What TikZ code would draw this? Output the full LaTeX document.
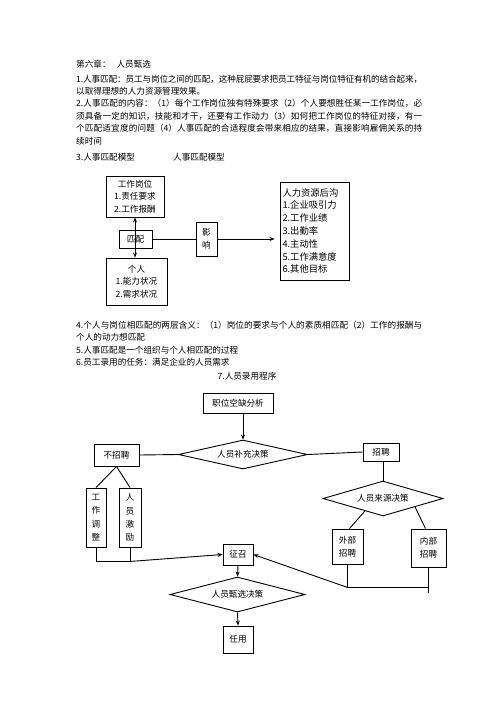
\documentclass[tikz,border=0pt]{standalone}
\usepackage{fontspec}
\setmainfont{Noto Sans CJK SC}
\usetikzlibrary{shapes.geometric,arrows.meta,calc}
\XeTeXlinebreaklocale "zh"
\XeTeXlinebreakskip=0pt plus 2pt minus 0.3pt
\newcommand{\fullline}[1]{\parbox{346pt}{\parfillskip=0pt\parindent=0pt #1}}

\begin{document}
\begin{tikzpicture}[x=1pt,y=-1pt,
	every node/.style={font=\fontsize{8.6}{12.6}\selectfont,inner sep=0pt},
	txt/.style={anchor=west},
	box/.style={draw,line width=0.9pt,align=center},
	dmd/.style={draw,line width=0.9pt,diamond,aspect=4},
	link/.style={line width=0.9pt},
	arr/.style={line width=0.9pt,-{Stealth[length=5pt,width=4pt]}},
	biarr/.style={line width=0.9pt,{Stealth[length=5pt,width=4pt]}-{Stealth[length=5pt,width=4pt]}}]
	\useasboundingbox (0,0) rectangle (496,702);
	% text above the model
	\node[txt] (title) at (76,64) {第六章：\hspace{6pt}人员甄选};
	\node[txt] (p1a) at (76,79) {\fullline{1.人事匹配：员工与岗位之间的匹配，这种屁屁要求把员工特征与岗位特征有机的结合起来，}};
	\node[txt] (p1b) at (76,91.5) {以取得理想的人力资源管理效果。};
	\node[txt] (p2a) at (76,103.5) {\fullline{2.人事匹配的内容：（1）每个工作岗位独有特殊要求（2）个人要想胜任某一工作岗位，必}};
	\node[txt] (p2b) at (76,116) {\fullline{须具备一定的知识，技能和才干，还要有工作动力（3）如何把工作岗位的特征对接，有一}};
	\node[txt] (p2c) at (76,128.5) {\fullline{个匹配适宜度的问题（4）人事匹配的合适程度会带来相应的结果，直接影响雇佣关系的持}};
	\node[txt] (p2d) at (76,141) {续时间};
	\node[txt] (p3) at (76,157) {3.人事匹配模型};
	\node[txt] (p3b) at (173,157) {人事匹配模型};
	% matching model
	\node[box,minimum width=58,minimum height=41] (job) at (135,196.5) {工作岗位\\1.责任要求\\2.工作报酬};
	\node[box,minimum width=33,minimum height=18] (match) at (135.5,239) {匹配};
	\node[box,minimum width=61,minimum height=47] (person) at (136.5,281.5) {个人\\1.能力状况\\2.需求状况};
	\node[box,minimum width=21,minimum height=34] (effect) at (206.5,239) {影\\响};
	\node[box,minimum width=69,minimum height=98,text width=64,align=left,
		font=\fontsize{9.3}{12.8}\selectfont] (outcome) at (314.5,231)
		{人力资源后沟\\1.企业吸引力\\2.工作业绩\\3.出勤率\\4.主动性\\5.工作满意度\\6.其他目标};
	\draw[biarr] (job.south) -- (job.south |- person.north);
	\draw[link] (match) -- (effect);
	\draw[arr,shorten >=5pt] (effect.east) -- (effect.east -| outcome.west);
	% text below the model
	\node[txt] (p4a) at (76,325) {\fullline{4.个人与岗位相匹配的两层含义：（1）岗位的要求与个人的素质相匹配（2）工作的报酬与}};
	\node[txt] (p4b) at (76,337) {个人的动力想匹配};
	\node[txt] (p5) at (76,350) {5.人事匹配是一个组织与个人相匹配的过程};
	\node[txt] (p6) at (76,362) {6.员工录用的任务：满足企业的人员需求};
	\node (p7) at (247,376) {7.人员录用程序};
	% hiring procedure
	\node[box,minimum width=70,minimum height=20] (vacancy) at (238,403) {职位空缺分析};
	\node[dmd,minimum width=129,minimum height=29] (supply) at (243,454.5) {人员补充决策};
	\node[box,minimum width=45,minimum height=22] (nohire) at (116.5,455) {不招聘};
	\node[box,minimum width=36,minimum height=18] (hire) at (381,452) {招聘};
	\node[dmd,minimum width=120,minimum height=35] (source) at (383,498.5) {人员来源决策};
	\node[box,minimum width=31,minimum height=35] (outer) at (347.5,546.5) {外部\\招聘};
	\node[box,minimum width=35,minimum height=38] (inner) at (428.5,548) {内部\\招聘};
	\node[box,minimum width=20,minimum height=59,font=\fontsize{8.6}{13.3}\selectfont] (adjust) at (96,517.5) {工\\作\\调\\整};
	\node[box,minimum width=22,minimum height=59,font=\fontsize{8.6}{13.3}\selectfont] (motivate) at (130,517.5) {人\\员\\激\\励};
	\node[box,minimum width=30,minimum height=21] (recruit) at (238,554.5) {征召};
	\node[dmd,minimum width=135,minimum height=35] (screen) at (237.5,594.5) {人员甄选决策};
	\node[box,minimum width=30,minimum height=27] (appoint) at (238,639.5) {任用};
	\coordinate (lj) at ([yshift=-14]motivate.south);
	\coordinate (rj) at ([yshift=-23]outer.south);
	\draw[arr] (vacancy.south -| supply.north) -- (supply.north);
	\draw[link] (nohire.east) -- (supply.west);
	\draw[link] (supply.east) -- (hire.west);
	\draw[link] (hire.south -| source.north) -- (source.north);
	\draw[link] (nohire.south) -- (adjust.north);
	\draw[link] (nohire.south) -- (motivate.north);
	\draw[link] ($(source.west)!0.7!(source.south)$) -- ([xshift=2]outer.north);
	\draw[link] ($(source.south)!0.53!(source.east)$) -- ([xshift=-3]inner.north);
	\draw[link] (adjust.south) |- (lj) -- (motivate.south);
	\draw[arr] (lj) -- (recruit.west);
	\draw[link] (outer.south) -- (rj) -- (rj -| inner.south);
	\draw[link] (inner.south) -- ([yshift=-26]inner.south);
	\draw[arr] (rj) -- (recruit.east);
	\draw[arr] (recruit.south) -- (screen.north);
	\draw[arr] (screen.south) -- (appoint.north);
\end{tikzpicture}
\end{document}
